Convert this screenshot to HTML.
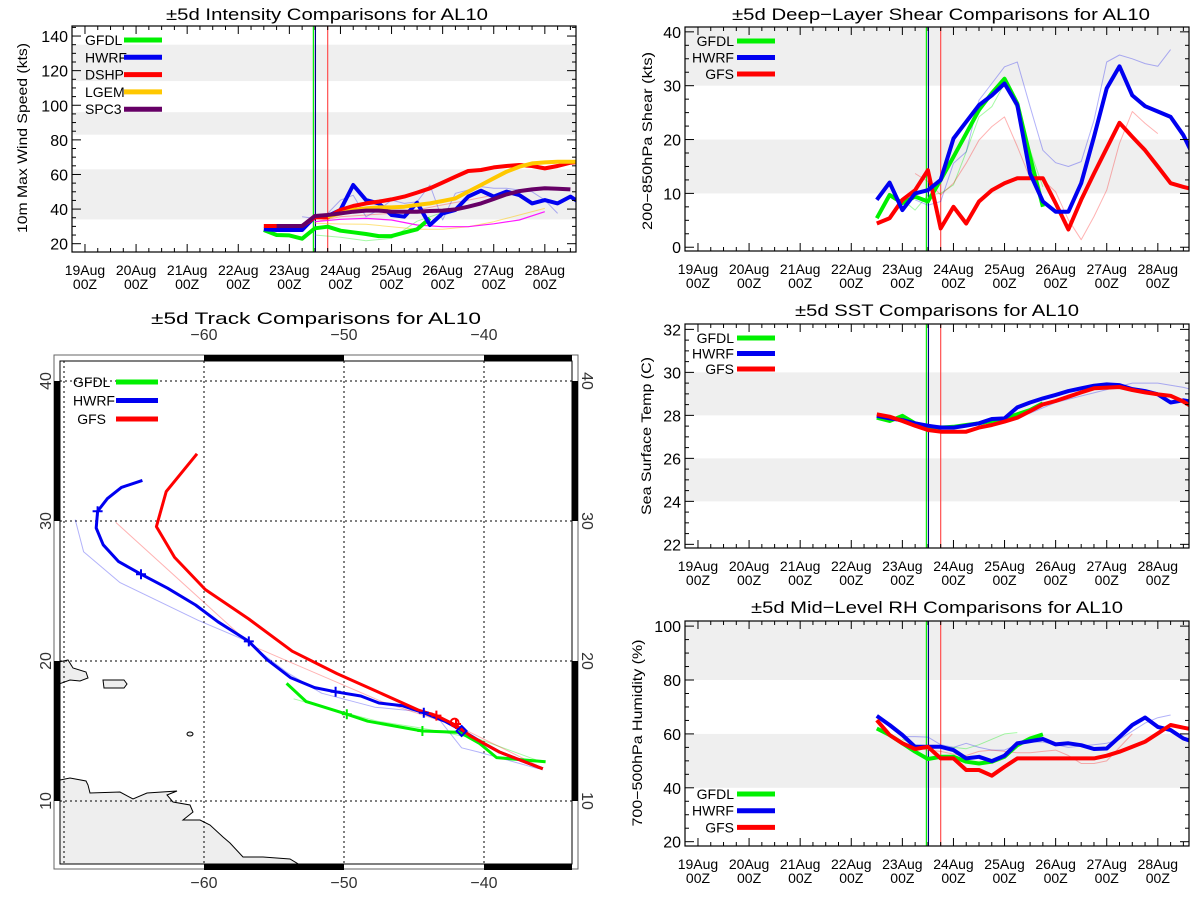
<!DOCTYPE html>
<html><head><meta charset="utf-8"><title>AL10 Comparisons</title>
<style>
html,body{margin:0;padding:0;background:#fff;}
svg{display:block;font-family:"Liberation Sans",sans-serif;}
</style></head>
<body>
<svg id="chart" width="1200" height="900" viewBox="0 0 1200 900" xmlns="http://www.w3.org/2000/svg">
<rect x="0" y="0" width="1200" height="900" fill="#fff"/>
</svg>
<script>
// ---------- Data (time in days since 19Aug 00Z; 6h steps) ----------
const dayLabels = ["19Aug","20Aug","21Aug","22Aug","23Aug","24Aug","25Aug","26Aug","27Aug","28Aug"];
const hourLabel = "00Z";
const seriesStart = 3.5;
const vlineTimes = [4.47, 4.51, 4.75];

// Intensity (kt)
const intGfdl = [27.9,25,24.8,22.9,28.9,29.8,27.5,26.6,25.6,24.4,24.4,26.4,28.3,34.6];
const intHwrf = [28.3,27.9,27.9,27.9,35.6,36,39.5,53.9,45.2,43.3,36.6,35.6,43.7,30.8,37.5,39.5,47.2,50.6,47.2,50.1,48.1,43.3,45.2,43.3,47.2,42.4];
const intDshp = [30.2,30.2,30.2,30.2,35.2,35.2,39.5,41.8,43.3,44.3,45.6,47.2,49.5,52,55.3,58.7,62,62.6,64.1,64.9,65.5,64.9,63.5,64.9,66.8,67.4];
const intLgem = [null,null,null,null,null,35.6,37.5,39.5,40.4,41,41,41.4,42.4,43.3,44.7,46.2,50.1,53.9,57.8,61.6,64.5,66.4,67,67.4,67.4,67.4];
const intSpc3 = [null,30.2,30.2,30.2,36,36.6,37.5,38.5,39.1,39.1,38.5,38.5,38.5,38.9,39.1,39.8,41.4,43.3,45.8,48.5,50.4,51.4,52,51.8,51.4];
const intPrevMag = [32.7,34.1,34.6,33.7,30.8,29.8,29.8,31.5,33.7,38.5];
const intPrevYel = [31.8,31.4,31.2,29.8,28.3,28.3,29.8,32.7,36.6,40.4];
const intPrevGrn = [25,23.7,21.7,23.1,33,38];
const intPrevBlu = [35.6,34.6,37.5,45.2,48,35.6,39.5,45.2,43.3,44.2,53.9,33.7,49.1,51,53,52,52,51,50,45.2,37.5];
const intPrevRed = [32.7,35.6,36.6,37.5,39.5,42.4,45.2,48.1];

// Shear (kt)
const shGfdl = [5.4,9.7,8.2,9.4,8.5,12.5,16.8,21.1,25.5,28.6,31.3,26.7,16.8,7.5];
const shHwrf = [8.8,12,6.9,10,10.6,12.5,20.2,23.3,26.4,28.2,30.4,26.4,13.7,8.5,6.6,6.6,11.9,20.5,29.5,33.6,28.2,26.2,25.2,24.2,20.8,15.9];
const shGfs = [4.4,5.4,8.8,10.6,14.3,3.5,7.5,4.4,8.5,10.6,11.9,12.8,12.8,12.8,8.2,3.3,8.8,13.7,18.4,23.1,20.5,18,15,11.9,11.2,10.6];
const shPrevBlu = [8.8,7.8,8.5,15.6,17.7,27.3,30.4,33.5,34.4,26.1,18,15.7,15,15.9,23.6,34.4,35.7,35,34.1,33.6,36.7];
const shPrevRed = [13.7,12.2,9.7,11.9,15.6,19.9,22.4,24.2,18.7,12.8,12.5,10.3,5.1,1.4,5.7,10.6,19.3,25.2,23,21.1];
const shPrevGrn = [8.8,6.9,9.7,10,11.6,17.7,24.2,26.1,30.4,25.5,18,11.2];

// SST (C)
const sstGfdl = [27.89,27.74,27.98,27.63,27.47,27.43,27.47,27.55,27.63,27.74,27.86,28.05,28.25,28.56];
const sstHwrf = [27.98,27.86,27.78,27.63,27.52,27.43,27.43,27.52,27.63,27.83,27.86,28.37,28.6,28.79,28.95,29.13,29.26,29.38,29.44,29.41,29.22,29.13,28.98,28.6,28.7,28.6];
const sstGfs = [28.05,27.94,27.74,27.52,27.32,27.24,27.24,27.24,27.43,27.55,27.71,27.89,28.2,28.51,28.67,28.87,29.07,29.26,29.29,29.32,29.18,29.07,28.98,28.91,28.64,28.29];
const sstPrevBlu = [27.55,27.5,27.6,27.8,28.1,28.6,28.9,29.2,29.5,29.5,29.3,29.0];

// Mid-level RH (%)
const rhGfdl = [62,59.6,56.5,53.4,50.7,51.5,51.5,49.7,49,49.7,51.5,55.8,58.3,59.8];
const rhHwrf = [66.7,63.3,59.6,55.2,55.2,55.2,54,50.9,51.5,49.9,51.9,56.5,57.3,58.1,56.1,56.5,55.8,54.4,54.6,58.9,63.3,66.1,62.6,61.4,58.3,56.7];
const rhGfs = [65.1,59.6,56.5,54.4,55.2,50.9,50.9,46.6,46.6,44.5,47.8,50.9,50.9,50.9,50.9,50.9,50.9,50.9,51.9,53.4,55.2,57.1,60.2,63.3,62.3,61.4];
const rhPrevBlu = [59,59,58.8,56,55,56.5,55,54,54,56,57,57,56,55,55.5,56,56.5,58,61,64,66,67];
const rhPrevRed = [56,55,54,53.5,52.5,52,53.5,54,53.5,53,53,53.5,54,52,49,49,50,55,60];
const rhPrevGrn = [58,56,55,55,55,54.5,56,58,60,60.5];

// Track (lon, lat)
const trkGfsLon = [-60.5,-62.7,-63.4,-62.1,-59.9,-56.8,-53.7,-50.5,-47.6,-44.7,-43.4,-42.0,-40.9,-38.9,-35.8];
const trkGfsLat = [34.8,32.1,29.6,27.4,25.1,23.0,20.7,19.1,17.8,16.5,16.1,15.4,14.6,13.5,12.3];
const trkHwrfLon = [-64.4,-65.9,-66.9,-67.6,-67.7,-67.2,-66.1,-64.5,-62.6,-60.6,-59.0,-56.8,-55.5,-53.8,-52.1,-50.6,-48.8,-47.5,-45.8,-44.3,-42.8,-41.5,-40.0,-38.9,-35.8];
const trkHwrfLat = [32.9,32.4,31.6,30.7,29.5,28.3,27.1,26.2,25.2,24.0,22.8,21.4,20.1,18.8,18.1,17.8,17.5,17.0,16.8,16.3,15.7,15.0,14.1,13.5,12.3];
const trkGfdlLon = [-54.1,-52.7,-49.8,-48.3,-44.4,-41.7,-40.3,-39.1,-35.6];
const trkGfdlLat = [18.4,17.1,16.2,15.7,15.0,14.9,14.1,13.1,12.8];
const trkPrevBluLon = [-69.2,-68.6,-66.0,-60.4,-57.1,-54.1,-51.6,-47.8,-43.7,-43.1,-41.6,-40.4,-36.1];
const trkPrevBluLat = [30.1,27.8,25.6,22.9,21.5,19.2,17.7,16.7,16.3,15.7,13.8,13.5,12.3];
const trkPrevRedLon = [-66.3,-56.6,-47.3,-41.8,-35.9];
const trkPrevRedLat = [29.9,21.1,17.1,15.3,12.4];
const trkPrevGrnLon = [-53.6,-51.1,-47.6,-44.4,-40.3,-35.9];
const trkPrevGrnLat = [17.3,16.6,15.7,15.2,14.4,12.8];
const hwrfCrossLon = [-67.6,-64.5,-56.8,-50.6,-44.3];
const hwrfCrossLat = [30.7,26.2,21.4,17.8,16.3];
const gfsCrossLon = [-43.4,-42.0];
const gfsCrossLat = [16.1,15.5];
const gfdlCrossLon = [-49.8,-44.4];
const gfdlCrossLat = [16.2,15.0];
const mapLonTicks = [-60,-50,-40];
const mapLatTicks = [10,20,30,40];

// ---------- helpers ----------
const NS = 'http://www.w3.org/2000/svg';
const svg = document.getElementById('chart');
function mk(tag, attrs, parent) {
  const e = document.createElementNS(NS, tag);
  for (const k in attrs) e.setAttribute(k, attrs[k]);
  (parent || svg).appendChild(e);
  return e;
}
const C = {green:'#00f000', blue:'#0000f0', red:'#ff0000', yellow:'#ffc800', purple:'#660066', magenta:'#ff00ff'};

function makePanel(cfg) {
  const g = mk('g', {});
  
  
  const x = t => cfg.left + (t - cfg.tmin) / (cfg.tmax - cfg.tmin) * (cfg.right - cfg.left);
  const y = v => cfg.bottom - (v - cfg.vmin) / (cfg.vmax - cfg.vmin) * (cfg.bottom - cfg.top);
  const clipId = cfg.name + '-clip';
  const defs = mk('defs', {}, g);
  const cp = mk('clipPath', {id: clipId}, defs);
  mk('rect', {x: cfg.left, y: cfg.top, width: cfg.right - cfg.left, height: cfg.bottom - cfg.top}, cp);
  const plot = mk('g', {'clip-path': 'url(#' + clipId + ')'}, g);
  
  
  cfg.bands.forEach(b => {
    const r = mk('rect', {x: cfg.left, y: y(b[1]), width: cfg.right - cfg.left, height: y(b[0]) - y(b[1]), fill: '#efefef'}, plot);
    
    
  });
  const vcols = [C.green, '#000080', '#ff5050'];
  vlineTimes.forEach((t, i) => {
    const l = mk('line', {x1: x(t), x2: x(t), y1: cfg.top, y2: cfg.bottom, stroke: vcols[i], 'stroke-width': 1.2}, plot);
    
    
  });
  const box = mk('rect', {x: cfg.left, y: cfg.top, width: cfg.right - cfg.left, height: cfg.bottom - cfg.top, fill: 'none', stroke: '#000', 'stroke-width': 1.2}, g);
  
  
  for (let t = -0.25; t <= cfg.tmax + 1e-6; t += 0.25) {
    const major = Math.abs(t - Math.round(t)) < 1e-6;
    const len = major ? 8 : 4;
    if (x(t) <= cfg.left + 0.5 || x(t) >= cfg.right - 0.5) continue;
    mk('line', {x1: x(t), x2: x(t), y1: cfg.bottom, y2: cfg.bottom - len, stroke: '#000'}, g);
    mk('line', {x1: x(t), x2: x(t), y1: cfg.top, y2: cfg.top + len, stroke: '#000'}, g);
  }
  dayLabels.forEach((d, i) => {
    const t1 = mk('text', {x: x(i), y: cfg.bottom + 23, 'text-anchor': 'middle', 'font-size': 14}, g);
    t1.textContent = d;
    
    
    const t2 = mk('text', {x: x(i), y: cfg.bottom + 37, 'text-anchor': 'middle', 'font-size': 14}, g);
    t2.textContent = hourLabel;
    
    
  });
  const start = Math.ceil(cfg.vmin / cfg.minor) * cfg.minor;
  for (let v = start; v <= cfg.vmax + 1e-6; v += cfg.minor) {
    const major = Math.abs(v / cfg.major - Math.round(v / cfg.major)) < 1e-6;
    const len = major ? 9 : 4;
    mk('line', {x1: cfg.left, x2: cfg.left + len, y1: y(v), y2: y(v), stroke: '#000'}, g);
    mk('line', {x1: cfg.right, x2: cfg.right - len, y1: y(v), y2: y(v), stroke: '#000'}, g);
    if (major) {
      const tl = mk('text', {x: cfg.left - 4, y: y(v) + 6, 'text-anchor': 'end', 'font-size': 16}, g);
      tl.textContent = String(Math.round(v));
      
      
    }
  }
  const title = mk('text', {x: cfg.titleX, y: cfg.titleY, 'text-anchor': 'middle', 'font-size': 17, textLength: cfg.titleLen, lengthAdjust: 'spacingAndGlyphs'}, g);
  title.textContent = cfg.title;
  
  
  const yt = mk('text', {x: 0, y: 0, 'text-anchor': 'middle', 'font-size': 14, textLength: cfg.ytLen, lengthAdjust: 'spacingAndGlyphs', transform: 'translate(' + cfg.ytX + ',' + cfg.ytY + ') rotate(-90)'}, g);
  yt.textContent = cfg.ytitle;
  
  
  return {x, y, plot, g, cfg};
}

function drawSeries(p, vals, t0, step, color, width, opacity, name) {
  let d = '';
  let pen = false;
  vals.forEach((v, i) => {
    if (v === null) { pen = false; return; }
    const px = p.x(t0 + i * step), py = p.y(v);
    d += (pen ? 'L' : 'M') + px.toFixed(1) + ' ' + py.toFixed(1);
    pen = true;
  });
  const path = mk('path', {d: d, fill: 'none', stroke: color, 'stroke-width': width, 'stroke-opacity': opacity, 'stroke-linejoin': 'round'}, p.plot);
  
  
}

function legend(parent, items, lx, lineX1, lineX2, y0, dy, anchor) {
  items.forEach((it, i) => {
    const yy = y0 + i * dy;
    const t = mk('text', {x: lx, y: yy + 5, 'font-size': 14, 'text-anchor': anchor || 'start'}, parent);
    t.textContent = it[0];
    
    
    const l = mk('line', {x1: lineX1, x2: lineX2, y1: yy, y2: yy, stroke: it[1], 'stroke-width': 5}, parent);
    
    
  });
}

const TMIN = -0.254, TMAX = 9.61;

// ---------- Intensity ----------
const pInt = makePanel({name: 'intensity-panel', left: 72, right: 576, top: 26, bottom: 252, tmin: TMIN, tmax: TMAX, vmin: 15.2, vmax: 145.8,
  bands: [[34, 63], [83, 96], [114, 135]], major: 20, minor: 5,
  title: '±5d Intensity Comparisons for AL10', titleX: 327, titleY: 20, titleLen: 322,
  ytitle: '10m Max Wind Speed (kts)', ytX: 27, ytY: 138, ytLen: 190});
drawSeries(pInt, intPrevGrn, 4.5, 0.5, C.green, 1, 0.35, 'gfdl-previous-line');
drawSeries(pInt, intPrevBlu, 4.25, 0.25, C.blue, 1, 0.3, 'hwrf-previous-line');
drawSeries(pInt, intPrevRed, 4.5, 0.5, C.red, 1, 0.3, 'dshp-previous-line');
drawSeries(pInt, intPrevYel, 4.5, 0.5, C.yellow, 1, 0.5, 'lgem-previous-line');
drawSeries(pInt, intPrevMag, 4.5, 0.5, C.magenta, 1.2, 0.9, 'spc3-previous-line');
drawSeries(pInt, intGfdl, seriesStart, 0.25, C.green, 4, 1, 'gfdl-line');
drawSeries(pInt, intHwrf, seriesStart, 0.25, C.blue, 4, 1, 'hwrf-line');
drawSeries(pInt, intDshp, seriesStart, 0.25, C.red, 4, 1, 'dshp-line');
drawSeries(pInt, intLgem, seriesStart, 0.25, C.yellow, 4, 1, 'lgem-line');
drawSeries(pInt, intSpc3, seriesStart, 0.25, C.purple, 4, 1, 'spc3-line');
legend(pInt.g, [['GFDL', C.green], ['HWRF', C.blue], ['DSHP', C.red], ['LGEM', C.yellow], ['SPC3', C.purple]], 85, 124, 162, 40, 17.3);

// ---------- Shear ----------
const pSh = makePanel({name: 'shear-panel', left: 685, right: 1189, top: 27, bottom: 251, tmin: TMIN, tmax: TMAX, vmin: -0.7, vmax: 40.9,
  bands: [[10, 20], [30, 40.9]], major: 10, minor: 2.5,
  title: '±5d Deep−Layer Shear Comparisons for AL10', titleX: 941, titleY: 20, titleLen: 418,
  ytitle: '200−850hPa Shear (kts)', ytX: 652, ytY: 141, ytLen: 178});
drawSeries(pSh, shPrevGrn, 4.0, 0.25, C.green, 1, 0.35, 'gfdl-previous-line');
drawSeries(pSh, shPrevBlu, 4.25, 0.25, C.blue, 1, 0.3, 'hwrf-previous-line');
drawSeries(pSh, shPrevRed, 4.25, 0.25, C.red, 1, 0.3, 'gfs-previous-line');
drawSeries(pSh, shGfdl, seriesStart, 0.25, C.green, 4, 1, 'gfdl-line');
drawSeries(pSh, shGfs, seriesStart, 0.25, C.red, 4, 1, 'gfs-line');
drawSeries(pSh, shHwrf, seriesStart, 0.25, C.blue, 4, 1, 'hwrf-line');
legend(pSh.g, [['GFDL', C.green], ['HWRF', C.blue], ['GFS', C.red]], 734, 737, 775, 41, 16.5, 'end');

// ---------- SST ----------
const pSst = makePanel({name: 'sst-panel', left: 685, right: 1189, top: 324, bottom: 548, tmin: TMIN, tmax: TMAX, vmin: 21.83, vmax: 32.25,
  bands: [[24, 26], [28, 30]], major: 2, minor: 0.5,
  title: '±5d SST Comparisons for AL10', titleX: 937, titleY: 316, titleLen: 284,
  ytitle: 'Sea Surface Temp (C)', ytX: 651, ytY: 436, ytLen: 158});
drawSeries(pSst, sstPrevBlu, 4.5, 0.5, C.blue, 1, 0.3, 'hwrf-previous-line');
drawSeries(pSst, sstGfdl, seriesStart, 0.25, C.green, 4, 1, 'gfdl-line');
drawSeries(pSst, sstHwrf, seriesStart, 0.25, C.blue, 4, 1, 'hwrf-line');
drawSeries(pSst, sstGfs, seriesStart, 0.25, C.red, 4, 1, 'gfs-line');
legend(pSst.g, [['GFDL', C.green], ['HWRF', C.blue], ['GFS', C.red]], 734, 737, 775, 338, 15.5, 'end');

// ---------- RH ----------
const pRh = makePanel({name: 'rh-panel', left: 685, right: 1189, top: 621, bottom: 846, tmin: TMIN, tmax: TMAX, vmin: 18.4, vmax: 101.9,
  bands: [[40, 60], [80, 101.9]], major: 20, minor: 5,
  title: '±5d Mid−Level RH Comparisons for AL10', titleX: 937, titleY: 613, titleLen: 372,
  ytitle: '700−500hPa Humidity (%)', ytX: 642, ytY: 733, ytLen: 187});
drawSeries(pRh, rhPrevGrn, 4.0, 0.25, C.green, 1, 0.35, 'gfdl-previous-line');
drawSeries(pRh, rhPrevBlu, 4.0, 0.25, C.blue, 1, 0.3, 'hwrf-previous-line');
drawSeries(pRh, rhPrevRed, 4.0, 0.25, C.red, 1, 0.3, 'gfs-previous-line');
drawSeries(pRh, rhGfdl, seriesStart, 0.25, C.green, 4, 1, 'gfdl-line');
drawSeries(pRh, rhHwrf, seriesStart, 0.25, C.blue, 4, 1, 'hwrf-line');
drawSeries(pRh, rhGfs, seriesStart, 0.25, C.red, 4, 1, 'gfs-line');
legend(pRh.g, [['GFDL', C.green], ['HWRF', C.blue], ['GFS', C.red]], 734, 737, 775, 794, 16.7, 'end');

// ---------- Track map ----------
const map = mk('g', {});


const MAP = {left: 60, right: 572, top: 361, bottom: 864, oL: 54, oR: 578, oT: 355, oB: 869};
const lonX = lon => 204 + (lon + 60) * 14;
const latY = lat => 521 - (lat - 30) * 14;
const mdefs = mk('defs', {}, map);
const mcp = mk('clipPath', {id: 'map-clip'}, mdefs);
mk('rect', {x: MAP.left, y: MAP.top, width: MAP.right - MAP.left, height: MAP.bottom - MAP.top}, mcp);
const mplot = mk('g', {'clip-path': 'url(#map-clip)'}, map);


const sa = mk('path', {d: 'M60 780 L70 778 L86 781 L88 785 L90 793 L120 792 L133 799 L147 793 L177 791 L167 795 L173 802 L190 805 L193 812 L183 820 L200 820 L210 825 L223 837 L230 843 L243 857 L263 857 L290 859 L300 865 L60 865 Z', fill: '#eeeeee', stroke: '#000', 'stroke-width': 1}, mplot);


const hisp = mk('path', {d: 'M59 662 L68 660 L73 668 L86 672 L88 678 L80 681 L70 680 L59 684 Z', fill: '#eeeeee', stroke: '#000', 'stroke-width': 1}, mplot);


const pr = mk('path', {d: 'M103 680 L124 680 L127 684 L124 688 L104 688 Z', fill: '#eeeeee', stroke: '#000', 'stroke-width': 1}, mplot);


const isl = mk('ellipse', {cx: 190, cy: 734, rx: 3, ry: 2, fill: '#eeeeee', stroke: '#000'}, mplot);


[-70].concat(mapLonTicks).forEach(lon => {
  const l = mk('line', {x1: lonX(lon), x2: lonX(lon), y1: MAP.top, y2: MAP.bottom, stroke: '#000', 'stroke-dasharray': '2,3', 'stroke-width': 1}, mplot);
  
  
});
mapLatTicks.forEach(lat => {
  const l = mk('line', {x1: MAP.left, x2: MAP.right, y1: latY(lat), y2: latY(lat), stroke: '#000', 'stroke-dasharray': '2,3', 'stroke-width': 1}, mplot);
  
  
});
function drawTrack(lons, lats, color, width, opacity, name) {
  const d = lons.map((lo, i) => (i ? 'L' : 'M') + lonX(lo).toFixed(1) + ' ' + latY(lats[i]).toFixed(1)).join('');
  const p = mk('path', {d: d, fill: 'none', stroke: color, 'stroke-width': width, 'stroke-opacity': opacity, 'stroke-linejoin': 'round'}, mplot);
  
  
}
function drawCrosses(lons, lats, color, name) {
  lons.forEach((lo, i) => {
    const cx = lonX(lo), cy = latY(lats[i]);
    const c = mk('path', {d: 'M' + (cx - 5) + ' ' + cy + 'H' + (cx + 5) + 'M' + cx + ' ' + (cy - 5) + 'V' + (cy + 5), stroke: color, 'stroke-width': 2}, mplot);
    
    
  });
}
drawTrack(trkPrevGrnLon, trkPrevGrnLat, C.green, 1, 0.35, 'gfdl-previous-track');
drawTrack(trkPrevBluLon, trkPrevBluLat, C.blue, 1, 0.3, 'hwrf-previous-track');
drawTrack(trkPrevRedLon, trkPrevRedLat, C.red, 1, 0.3, 'gfs-previous-track');
drawTrack(trkGfdlLon, trkGfdlLat, C.green, 3, 1, 'gfdl-track');
drawTrack(trkHwrfLon, trkHwrfLat, C.blue, 3, 1, 'hwrf-track');
drawTrack(trkGfsLon, trkGfsLat, C.red, 3, 1, 'gfs-track');
drawCrosses(hwrfCrossLon, hwrfCrossLat, C.blue, 'hwrf-track-marker');
drawCrosses(gfsCrossLon, gfsCrossLat, C.red, 'gfs-track-marker');
drawCrosses(gfdlCrossLon, gfdlCrossLat, C.green, 'gfdl-track-marker');
const dia = mk('path', {d: 'M' + lonX(-41.6) + ' ' + (latY(15.0) - 5) + 'l5 5l-5 5l-5 -5z', fill: 'none', stroke: C.blue, 'stroke-width': 2}, mplot);


const circ = mk('circle', {cx: lonX(-42.1), cy: latY(15.6), r: 4, fill: 'none', stroke: C.red, 'stroke-width': 2}, mplot);


const outer = mk('rect', {x: MAP.oL, y: MAP.oT, width: MAP.oR - MAP.oL, height: MAP.oB - MAP.oT, fill: 'none', stroke: '#666', 'stroke-width': 1}, map);


[[lonX(-60), lonX(-50)], [lonX(-40), MAP.right]].forEach(s => {
  [MAP.oT, MAP.bottom].forEach(yy => {
    const r = mk('rect', {x: s[0], y: yy, width: s[1] - s[0], height: 6, fill: '#000'}, map);
    
    
  });
});
[[latY(40), latY(30)], [latY(20), latY(10)]].forEach(s => {
  [MAP.oL, MAP.right].forEach(xx => {
    const r = mk('rect', {x: xx, y: s[0], width: 6, height: s[1] - s[0], fill: '#000'}, map);
    
    
  });
});
const inner = mk('rect', {x: MAP.left, y: MAP.top, width: MAP.right - MAP.left, height: MAP.bottom - MAP.top, fill: 'none', stroke: '#000', 'stroke-width': 1}, map);


mapLonTicks.forEach(lon => {
  [340, 888].forEach(yy => {
    const t = mk('text', {x: lonX(lon), y: yy, 'text-anchor': 'middle', 'font-size': 16, fill: '#333'}, map);
    t.textContent = '\u2212' + Math.abs(lon);
    
    
  });
});
mapLatTicks.forEach(lat => {
  const t1 = mk('text', {x: 0, y: 0, 'text-anchor': 'middle', 'font-size': 16, fill: '#333', transform: 'translate(' + 51 + ',' + latY(lat) + ') rotate(-90)'}, map);
  t1.textContent = String(lat);
  
  
  const t2 = mk('text', {x: 0, y: 0, 'text-anchor': 'middle', 'font-size': 16, fill: '#333', transform: 'translate(' + 582 + ',' + latY(lat) + ') rotate(90)'}, map);
  t2.textContent = String(lat);
  
  
});
const mtitle = mk('text', {x: 316, y: 324, 'text-anchor': 'middle', 'font-size': 17, textLength: 330, lengthAdjust: 'spacingAndGlyphs'}, map);
mtitle.textContent = '±5d Track Comparisons for AL10';


legend(map, [['GFDL', C.green], ['HWRF', C.blue]], 73, 116, 158, 382, 18.5, 'start');
legend(map, [['GFS', C.red]], 106, 116, 158, 419, 18.5, 'end');
</script>
</body></html>
